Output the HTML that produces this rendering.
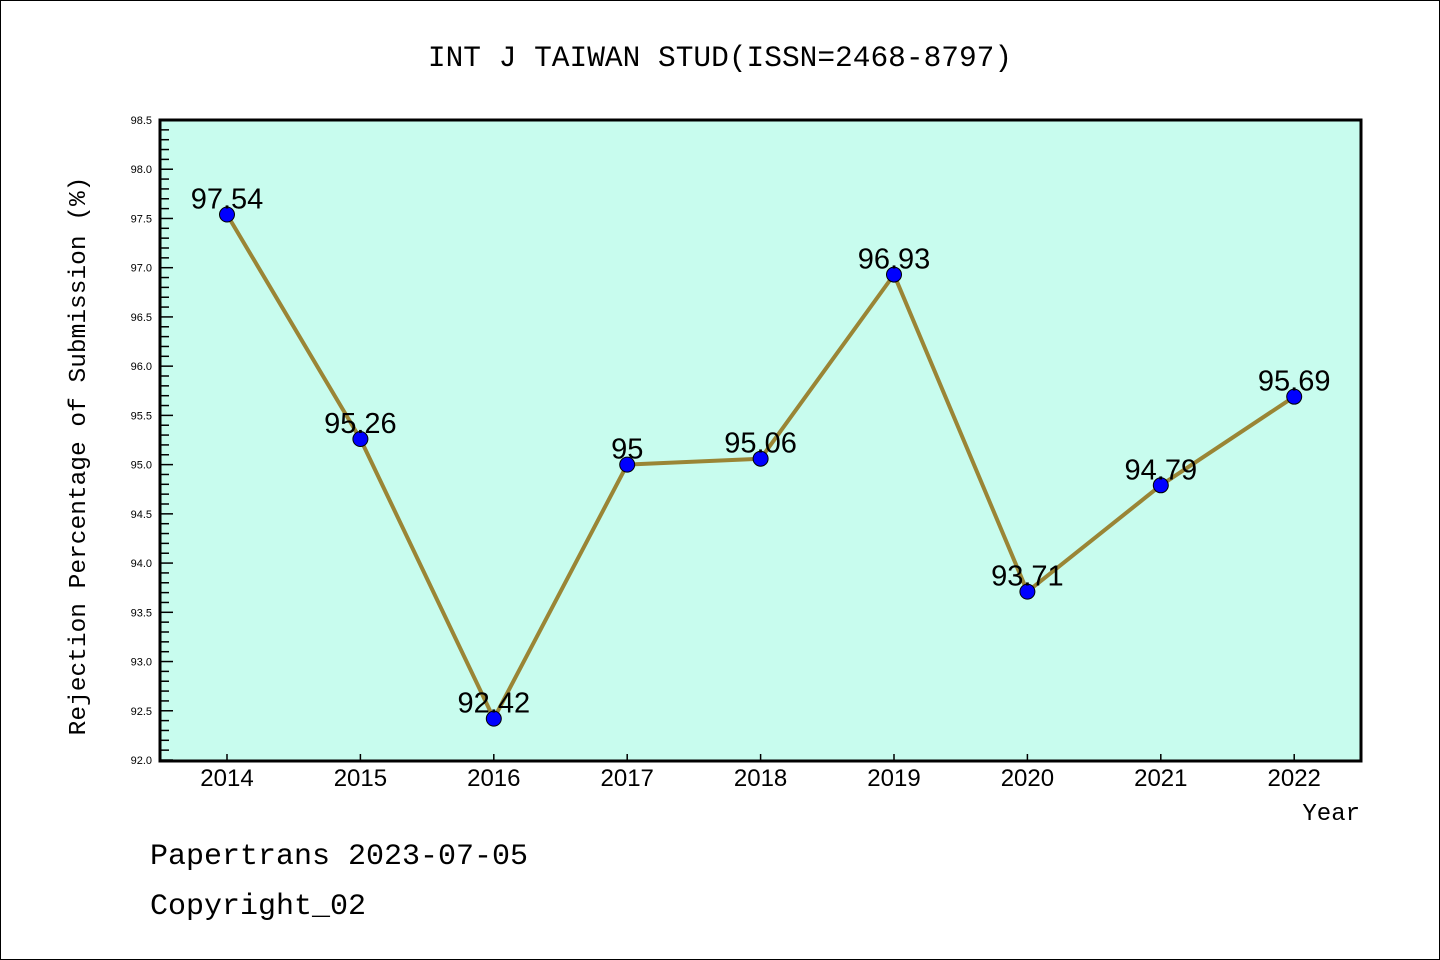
<!DOCTYPE html>
<html><head><meta charset="utf-8">
<style>
html,body{margin:0;padding:0;background:#fff;}
svg{display:block;}
text{font-family:"Liberation Sans","DejaVu Sans",sans-serif;}
.mono{font-family:"Liberation Mono","DejaVu Sans Mono",monospace;}
</style></head>
<body>
<svg id="chart" width="1440" height="960" viewBox="0 0 1440 960">
<rect x="0.5" y="0.5" width="1439" height="959" fill="#fff" stroke="#000" stroke-width="1"/>
<text class="mono" x="720" y="66" font-size="29.5" text-anchor="middle">INT J TAIWAN STUD(ISSN=2468-8797)</text>
<rect x="160" y="120" width="1201" height="641" fill="#c8fcee"/>
<g id="axes"></g>
<g id="series"></g>
<rect x="160" y="120" width="1201" height="641" fill="none" stroke="#000" stroke-width="3"/>
<text class="mono" transform="translate(85,456) rotate(-90)" font-size="24.5" text-anchor="middle">Rejection Percentage of Submission (%)</text>
<text class="mono" x="1360" y="820" font-size="24" text-anchor="end">Year</text>
<text class="mono" x="150" y="864" font-size="30">Papertrans 2023-07-05</text>
<text class="mono" x="150" y="914" font-size="30">Copyright_02</text>
</svg>
<script>
const years = ["2014","2015","2016","2017","2018","2019","2020","2021","2022"];
const values = [97.54, 95.26, 92.42, 95, 95.06, 96.93, 93.71, 94.79, 95.69];
const valueLabels = ["97.54","95.26","92.42","95","95.06","96.93","93.71","94.79","95.69"];
const yTickLabels = ["92.0","92.5","93.0","93.5","94.0","94.5","95.0","95.5","96.0","96.5","97.0","97.5","98.0","98.5"];

(function(){
const NS = "http://www.w3.org/2000/svg";
const yMin = 92.0, yMax = 98.5;
const plotTop = 120, plotBottom = 760, plotLeft = 160;
function yScale(v){ return plotBottom - (v - yMin) / (yMax - yMin) * (plotBottom - plotTop); }
function xScale(i){ return 227 + i * 133.4; }
function mk(tag, attrs, parent){ const e = document.createElementNS(NS, tag); for (const k in attrs) e.setAttribute(k, attrs[k]); parent.appendChild(e); return e; }

const axes = document.getElementById("axes");
for (let i = 0; i <= 65; i++) {
  const v = yMin + i * 0.1;
  const y = yScale(v);
  const major = i % 5 === 0;
  const t = mk("line", {x1: plotLeft, x2: plotLeft + (major ? 13 : 9), y1: y, y2: y, stroke: "#000", "stroke-width": 1.5}, axes);
  
  
}
yTickLabels.forEach(function(lbl){
  const y = yScale(parseFloat(lbl));
  const t = mk("text", {x: 152, y: y + 4, "font-size": 11, "text-anchor": "end"}, axes);
  t.textContent = lbl;
  
  
});
years.forEach(function(yr, i){
  const x = xScale(i);
  const tk = mk("line", {x1: x, x2: x, y1: plotBottom, y2: plotBottom - 6, stroke: "#000", "stroke-width": 1.5}, axes);
  
  
  const t = mk("text", {x: x, y: 786, "font-size": 24, "text-anchor": "middle"}, axes);
  t.textContent = yr;
  
  
});

const series = document.getElementById("series");
const pts = values.map(function(v, i){ return xScale(i) + "," + yScale(v); }).join(" ");
const line = mk("polyline", {points: pts, fill: "none", stroke: "#9a8535", "stroke-width": 4, "stroke-linejoin": "round"}, series);


values.forEach(function(v, i){
  const x = xScale(i), y = yScale(v);
  const c = mk("circle", {cx: x, cy: y, r: 7.5, fill: "#0000ff", stroke: "#000", "stroke-width": 1}, series);
  
  
  const t = mk("text", {x: x, y: y - 6, "font-size": 29, "text-anchor": "middle"}, series);
  t.textContent = valueLabels[i];
  
  
});
})();
</script>
</body></html>
